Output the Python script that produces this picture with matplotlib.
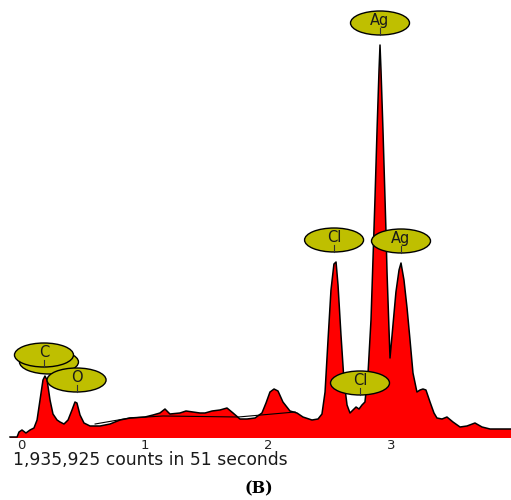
import matplotlib
matplotlib.use("Agg")
import matplotlib.pyplot as plt
from matplotlib.patches import Ellipse

# Spectrum: energy (keV) and counts (arbitrary units)
energy = [-0.089, -0.032, -0.016, 0.008, 0.040, 0.073, 0.105, 0.130, 0.154, 0.178,
          0.194, 0.211, 0.235, 0.259, 0.292, 0.316, 0.348, 0.381, 0.413, 0.437,
          0.453, 0.478, 0.510, 0.559, 0.640, 0.721, 0.802, 0.883, 1.004, 1.069,
          1.125, 1.166, 1.206, 1.287, 1.336, 1.393, 1.449, 1.490, 1.547, 1.611,
          1.668, 1.717, 1.773, 1.830, 1.895, 1.951, 1.984, 2.016, 2.049, 2.081,
          2.121, 2.178, 2.235, 2.283, 2.356, 2.405, 2.437, 2.462, 2.486, 2.510,
          2.534, 2.551, 2.567, 2.591, 2.615, 2.640, 2.664, 2.688, 2.713, 2.737,
          2.761, 2.785, 2.810, 2.834, 2.850, 2.866, 2.883, 2.899, 2.907, 2.915,
          2.931, 2.955, 2.964, 2.980, 2.988, 3.012, 3.036, 3.061, 3.077, 3.101,
          3.126, 3.150, 3.174, 3.206, 3.231, 3.255, 3.279, 3.312, 3.344, 3.368,
          3.409, 3.449, 3.498, 3.555, 3.611, 3.676, 3.733, 3.798, 3.879, 3.968,
          4.100]
counts = [1, 1, 6, 8, 5, 8, 10, 18, 38, 58,
          62, 58, 38, 24, 18, 16, 14, 18, 28, 36,
          35, 23, 15, 12, 12, 14, 18, 20, 21, 23,
          25, 29, 24, 25, 27, 26, 25, 25, 27, 28,
          30, 25, 19, 19, 20, 25, 35, 46, 49, 47,
          36, 27, 25, 21, 18, 19, 24, 46, 98, 148,
          174, 176, 153, 103, 58, 33, 25, 28, 31, 29,
          33, 36, 65, 118, 178, 238, 308, 368, 393, 368,
          308, 208, 165, 108, 80, 113, 146, 168, 175, 158,
          130, 98, 65, 46, 48, 49, 48, 36, 25, 20,
          19, 21, 16, 11, 12, 15, 11, 9, 9, 9,
          9]

# Background fit line
bg_energy = [0.60, 0.88, 1.15, 1.76, 2.22]
bg_counts = [14, 20, 22, 21, 26]

# Element labels: name, energy, label centre height
label_names = ["Ag", "Cl", "Ag", "C", "O", "Cl"]
label_energy = [2.907, 2.535, 3.077, 0.186, 0.450, 2.745]
label_height = [415, 198, 197, 83, 58, 55]

tick_values = [0, 1, 2, 3, 4]
caption = "1,935,925 counts in 51 seconds"

W, H = 511, 500
fig = plt.figure(figsize=(W / 100, H / 100), dpi=100)
fig.patch.set_facecolor("white")

x0 = -0.170
px_per_kev = 123.5
x1 = 4.1
ax_w = (x1 - x0) * px_per_kev / W
ax = fig.add_axes([0, (H - 438) / H, ax_w, 438 / H])
ax.set_xlim(x0, x1)
ax.set_ylim(0, 438)

ax.fill_between(energy, 0, counts, color="#ff0000", lw=0, zorder=1)
ax.plot(energy, counts, color="black", lw=1.1, zorder=2)
ax.plot(bg_energy, bg_counts, color="black", lw=0.8, zorder=2)

for s in ax.spines.values():
    s.set_visible(False)
ax.set_yticks([])
ax.set_xticks(tick_values)
ax.set_xticklabels([str(t) for t in tick_values], fontsize=9.5, color="#222222")
ax.tick_params(axis="x", length=0, pad=1)

face = "#bfbf00"
ew = 59 / px_per_kev
for name, e, h in zip(label_names, label_energy, label_height):
    if name == "C":
        ax.add_patch(Ellipse((e + 5 / px_per_kev, h - 7), ew, 24, facecolor=face,
                             edgecolor="black", lw=1.0, zorder=5))
    ax.add_patch(Ellipse((e, h), ew, 24, facecolor=face, edgecolor="black",
                         lw=1.0, zorder=6))
    ax.text(e, h + 2.5, name, ha="center", va="center", fontsize=10.5,
            color="#1a1a1a", zorder=7)
    ax.plot([e, e], [h - 5, h - 12], color="#333333", lw=0.8, zorder=7)

fig.text(13 / W, 1 - 460 / H, caption, ha="left", va="center", fontsize=12.3,
         color="#1a1a1a")
fig.text(259 / W, 1 - 489 / H, "(B)", ha="center", va="center", fontsize=11.5,
         fontweight="bold", family="DejaVu Serif")

fig.savefig("out.png", dpi=100, facecolor="white")
